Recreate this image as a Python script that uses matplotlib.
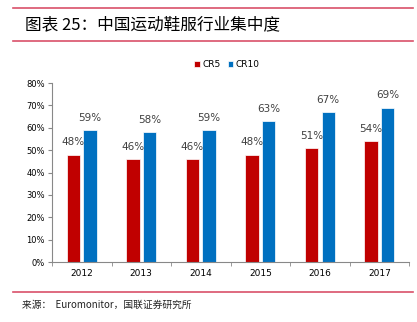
import numpy as np
import matplotlib.pyplot as plt
from matplotlib.lines import Line2D

plt.rcParams['font.family'] = ['Noto Sans CJK SC', 'DejaVu Sans']

years = ['2012', '2013', '2014', '2015', '2016', '2017']
cr5 = [48, 46, 46, 48, 51, 54]
cr10 = [59, 58, 59, 63, 67, 69]

fig = plt.figure(figsize=(4.17, 3.22), dpi=100)
ax = fig.add_axes([0.1247, 0.1863, 0.8565, 0.5557])

x = np.arange(len(years))
w = 0.225
b1 = ax.bar(x - 0.14, cr5, w, color='#C00000', edgecolor='white', linewidth=0.5, label='CR5')
b2 = ax.bar(x + 0.14, cr10, w, color='#0070C0', edgecolor='white', linewidth=0.5, label='CR10')
for bars in (b1, b2):
    for r in bars:
        ax.text(r.get_x() + r.get_width() / 2, r.get_height() + 3.3, '%d%%' % r.get_height(),
                ha='center', va='bottom', fontsize=7.5, color='#404040', family='DejaVu Sans')

ax.set_xlim(-0.5, len(years) - 0.5)
ax.set_ylim(0, 80)
ax.set_yticks(range(0, 81, 10))
ax.set_yticklabels(['%d%%' % v for v in range(0, 81, 10)], fontsize=6, family='DejaVu Sans')
ax.set_xticks(x)
ax.set_xticklabels(years, fontsize=6.5, family='DejaVu Sans')
ax.set_xticks(np.arange(-0.5, len(years)), minor=True)
ax.tick_params(axis='x', which='major', length=0, pad=5)
ax.tick_params(axis='x', which='minor', length=3, color='#888888', direction='out')
ax.tick_params(axis='y', length=3, color='#888888', pad=2)
for s in ('top', 'right'):
    ax.spines[s].set_visible(False)
for s in ('left', 'bottom'):
    ax.spines[s].set_color('#888888')
    ax.spines[s].set_linewidth(0.8)

ax.legend(loc='upper center', bbox_to_anchor=(0.49, 1.175), ncol=2, frameon=False,
          handlelength=0.6, handleheight=0.6, handletextpad=0.3, columnspacing=0.8,
          prop={'family': 'DejaVu Sans', 'size': 6.5})

for y in (1 - 8 / 322, 1 - 41 / 322, 1 - 292 / 322):
    fig.add_artist(Line2D([13 / 417, 413 / 417], [y, y], color='#D9506A', linewidth=1.2))

fig.text(25 / 417, 1 - 25 / 322, '图表 25：中国运动鞋服行业集中度', fontsize=12, va='center',
         ha='left', style='italic', color='black')
fig.text(22 / 417, 1 - 305 / 322, '来源：  Euromonitor，国联证券研究所', fontsize=7, va='center',
         ha='left', color='#222222')

fig.savefig('out.png', dpi=100)
